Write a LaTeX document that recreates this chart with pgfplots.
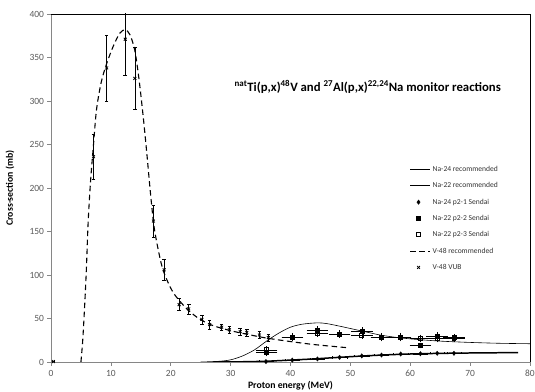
\documentclass[border=0pt]{standalone}
\usepackage{pgfplots}
\pgfplotsset{compat=1.18}
\usepackage{fontspec}
\setmainfont{Carlito}
\definecolor{ticklab}{HTML}{595959}
\definecolor{axgray}{HTML}{868686}
\pgfplotsset{linelegend/.style={legend image code/.code={\draw[##1] (0cm,0cm) -- (0.7cm,0cm);}}}
\begin{document}
\begin{tikzpicture}
\useasboundingbox (-51bp,-30bp) rectangle (484bp,362bp);
\begin{axis}[
  at={(0,0)}, anchor=south west,
  scale only axis, width=479bp, height=348bp,
  xmin=0, xmax=80, ymin=0, ymax=400,
  xtick={0,10,...,80}, ytick={0,50,...,400},
  xtick pos=left, ytick pos=left,
  tick align=outside, major tick length=3.5bp,
  tick style={axgray, line width=0.6pt},
  axis line style={axgray, line width=0.6pt},
  ticklabel style={font=\fontsize{9.5}{11}\selectfont, text=ticklab},
  xticklabel style={yshift=-1bp},
  /pgf/number format/assume math mode=true,
  xlabel={\textbf{Proton energy (MeV)}},
  ylabel={\textbf{Cross-section (mb)}},
  label style={font=\fontsize{9.8}{11}\selectfont},
  xlabel style={at={([yshift=-24bp]rel axis cs:0.5,0)}, anchor=center},
  ylabel style={at={([xshift=-41bp]rel axis cs:0,0.5)}, anchor=center},
  legend style={draw=none, fill=none, at={(axis cs:59.3,230)}, anchor=north west,
    font=\fontsize{7.6}{8.5}\selectfont, text=black!80, row sep=5.6bp,
    legend cell align=left},
  after end axis/.code={\draw[black, line width=0.7pt] (rel axis cs:0,1) -- (rel axis cs:1,1) -- (rel axis cs:1,0);},
]
% Na-24 recommended
\addplot[black, line width=1.5pt, smooth,
  legend image code/.code={\draw[black, line width=1.6pt] (0cm,0cm) -- (0.7cm,0cm);}] coordinates {
(27,0)(30,0.1)(33,0.4)(36,0.9)(40,2.2)(44,3.6)(48,5.3)(52,6.9)(56,8.2)(60,9.2)(64,9.8)(68,10.2)(72,10.5)(78,10.8)};
\addlegendentry{Na-24 recommended}
% Na-22 recommended
\addplot[black, line width=0.6pt, smooth,
  legend image code/.code={\draw[black, line width=0.6pt] (0cm,0cm) -- (0.7cm,0cm);}] coordinates {
(25,0)(28,0.8)(30,2.5)(32,7)(34,14)(36,24)(38,33)(40,40)(42,43.5)(44.5,45)(46,44.2)(48,41.5)(50,38.5)(52,35.5)(55,31)(58,28)(61,26)(65,24)(70,22.5)(75,21.5)(80,21)};
\addlegendentry{Na-22 recommended}
% Na-24 p2-1 Sendai
\addplot[only marks, mark=diamond*, mark size=2.2pt, black,
  error bars/.cd, x dir=both, x explicit, error mark options={rotate=90, mark size=1.2pt, black}] coordinates {
(35.9,0.5) +- (1.2,0) (40.3,2.2) +- (1.2,0) (44.5,3.5) +- (1.2,0) (48.2,5.3) +- (1.2,0) (51.9,7) +- (1.2,0)
(55.2,8) +- (1.2,0) (58.4,9.2) +- (1.2,0) (61.7,9.5) +- (1.2,0) (64.5,10) +- (1.2,0) (67.3,10) +- (1.2,0)};
\addlegendentry{Na-24 p2-1 Sendai}
% Na-22 p2-2 Sendai
\addplot[only marks, mark=square*, mark size=2pt, black,
  error bars/.cd, x dir=both, x explicit, y dir=both, y explicit, error mark options={mark size=1.2pt, black}] coordinates {
(36,11) +- (1.6,3) (40.3,29) +- (1.6,3) (44.5,36) +- (1.6,3.5) (48.2,32) +- (1.6,3) (51.9,35) +- (1.6,3.5)
(55.2,29) +- (1.6,3) (58.4,29) +- (1.6,3) (61.7,19) +- (1.6,2) (64.5,30) +- (1.6,3) (67.3,28) +- (1.6,3)};
\addlegendentry{Na-22 p2-2 Sendai}
% Na-22 p2-3 Sendai
\addplot[only marks, mark=square, mark size=2pt, black, mark options={line width=0.9pt},
  error bars/.cd, x dir=both, x explicit, y dir=both, y explicit, error mark options={mark size=1.2pt, black}] coordinates {
(36,14) +- (1.6,3) (40.3,28) +- (1.6,3) (44.5,33) +- (1.6,3) (48.2,32) +- (1.6,3) (51.9,31) +- (1.6,3)
(55.2,28) +- (1.6,3) (58.4,28) +- (1.6,3) (61.7,27) +- (1.6,3) (64.5,27) +- (1.6,3) (67.3,27) +- (1.6,3)};
\addlegendentry{Na-22 p2-3 Sendai}
% V-48 recommended
\addplot[black, line width=1.1pt, dash pattern=on 5.5bp off 3.5bp, smooth, tension=0.5,
  legend image code/.code={\draw[black, line width=1.1pt, dash pattern=on 5.5bp off 3.5bp] (0cm,0cm) -- (0.7cm,0cm);}] coordinates {
(5.0,0)(5.3,25)(5.6,62)(5.9,105)(6.2,160)(6.6,207)(7.1,250)(7.6,290)(8.4,322)(9.3,343)(10.4,363)(11.5,378)(12.4,382)(13.2,376)(14.0,358)(14.7,325)(15.4,282)(16.0,240)(16.6,195)(17.2,156)(18.0,126)(18.8,104)(20.4,80)(22.7,61)(24.9,49)(27,42)(30,36)(33,31.5)(36,27.5)(40,23.5)(44,20)(49.4,16.5)};
\addlegendentry{V-48 recommended}
% V-48 VUB
\addplot[only marks, mark=x, mark size=2pt, black, mark options={line width=0.8pt},
  error bars/.cd, y dir=both, y explicit, error bar style={line width=0.6pt}, error mark options={rotate=90, mark size=1.8pt, black}] coordinates {
(0.4,0.5) +- (0,0) (7.1,236) +- (0,26) (9.3,338) +- (0,38) (12.4,371) +- (0,41) (14.0,326) +- (0,36)
(17.1,162) +- (0,18) (18.9,106) +- (0,12) (21.4,66) +- (0,7) (23.0,61) +- (0,6) (25.2,49) +- (0,5)
(26.5,43) +- (0,5) (28.5,40) +- (0,4) (29.8,37) +- (0,4) (31.6,35) +- (0,4) (32.7,34) +- (0,4)
(34.8,31) +- (0,4) (36.3,28) +- (0,4)};
\addlegendentry{V-48 VUB}
\node[font=\bfseries\fontsize{12.8}{14}\selectfont, anchor=center] at (axis cs:52.9,316)
 {\textsuperscript{nat}Ti(p,x)\textsuperscript{48}V and \textsuperscript{27}Al(p,x)\textsuperscript{22,24}Na monitor reactions};
\end{axis}
\end{tikzpicture}
\end{document}
